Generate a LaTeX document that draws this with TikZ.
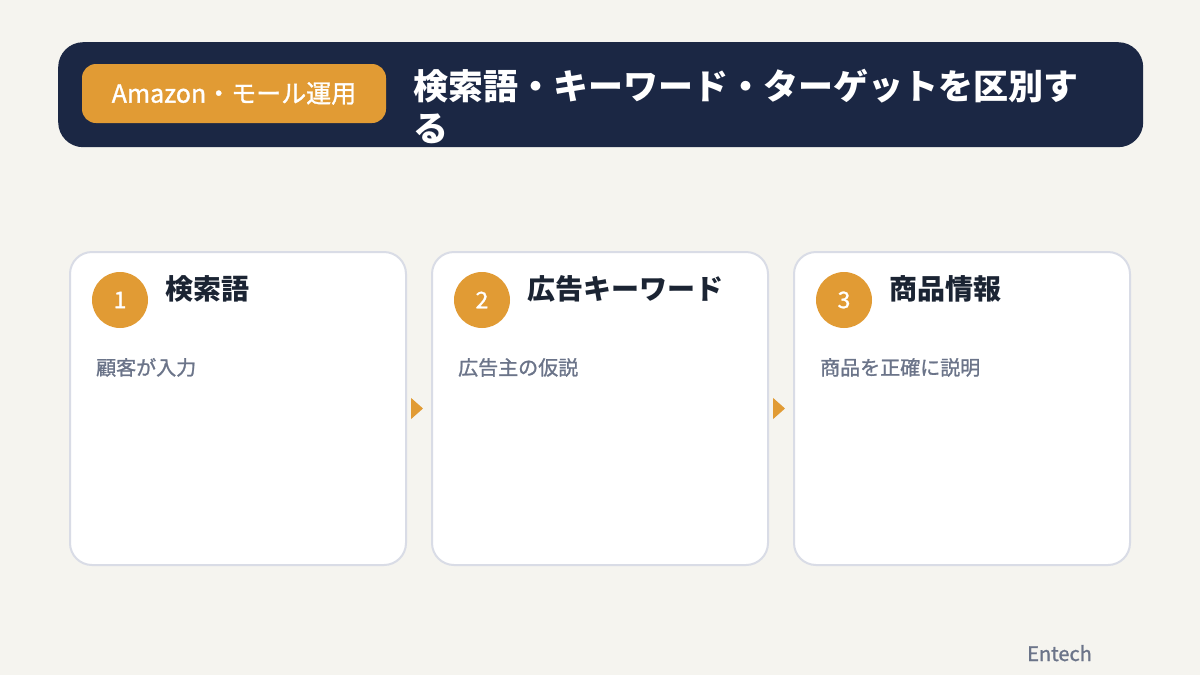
\documentclass[tikz,border=0pt]{standalone}
\usepackage{fontspec}
\setmainfont{Noto Sans CJK JP}
\newfontfamily\medfont{Noto Sans CJK JP}[FakeBold=1.2]
\usetikzlibrary{arrows.meta}

\definecolor{paper}{HTML}{F5F4EF}
\definecolor{navy}{HTML}{1B2744}
\definecolor{amber}{HTML}{E19B34}
\definecolor{cardline}{HTML}{D9DCE6}
\definecolor{inkdark}{HTML}{1B2433}
\definecolor{inkgray}{HTML}{6B7489}

\tikzset{
    card/.style={draw=cardline, line width=2pt, fill=white, rounded corners=22pt,
        minimum width=336pt, minimum height=313pt, anchor=north west},
    numdot/.style={circle, fill=amber, minimum size=56pt, inner sep=0pt,
        text=white, font=\medfont\fontsize{23}{26}\selectfont},
    cardhead/.style={anchor=base west, inner sep=0pt, text=inkdark,
        font=\bfseries\fontsize{28}{32}\selectfont},
    cardsub/.style={anchor=base west, inner sep=0pt, text=inkgray,
        font=\medfont\fontsize{20}{24}\selectfont},
    flowarrow/.style={draw=amber, fill=amber, line width=1pt,
        -{Triangle[length=12pt,width=21pt]}, shorten <=6pt, shorten >=8pt}
}

\begin{document}
\begin{tikzpicture}[x=1pt, y=-1pt]
    % Page and background
    \useasboundingbox[fill=paper] (0,0) rectangle (1200,675);

    % Header bar
    \node[fill=navy, rounded corners=25pt, minimum width=1085pt, minimum height=105pt,
        anchor=north west, inner sep=0pt] (header) at (58,42) {};
    \node[fill=amber, rounded corners=14pt, minimum width=304pt, minimum height=59pt,
        inner sep=0pt, text=white, font=\medfont\fontsize{25}{28}\selectfont] (badge) at (234,93.5)
        {Amazon・モール運用};
    \node[anchor=base west, inner sep=0pt, text=white,
        font=\bfseries\fontsize{35}{42}\selectfont] (title1) at (413,99)
        {検索語・キーワード・ターゲットを区別す};
    \node[anchor=base west, inner sep=0pt, text=white,
        font=\bfseries\fontsize{35}{42}\selectfont] (title2) at (413,141) {る};

    % Cards
    \foreach \i/\x/\head/\sub in {1/69/検索語/顧客が入力,
                                  2/431/広告キーワード/広告主の仮説,
                                  3/793/商品情報/商品を正確に説明} {
        \node[card] (card\i) at (\x,251) {};
        \node[numdot] (num\i) at ({\x+51},300) {\i};
        \node[cardhead] (head\i) at ({\x+96},299) {\head};
        \node[cardsub] (sub\i) at ({\x+27},375) {\sub};
    }

    % Arrows between cards
    \foreach \i [evaluate=\i as \j using {int(\i+1)}] in {1,2} {
        \draw[flowarrow] (card\i.east) -- (card\j.west);
    }

    % Footer
    \node[anchor=base west, inner sep=0pt, text=inkgray,
        font=\medfont\fontsize{20}{24}\selectfont] (brand) at (1027,661) {Entech};
\end{tikzpicture}
\end{document}
